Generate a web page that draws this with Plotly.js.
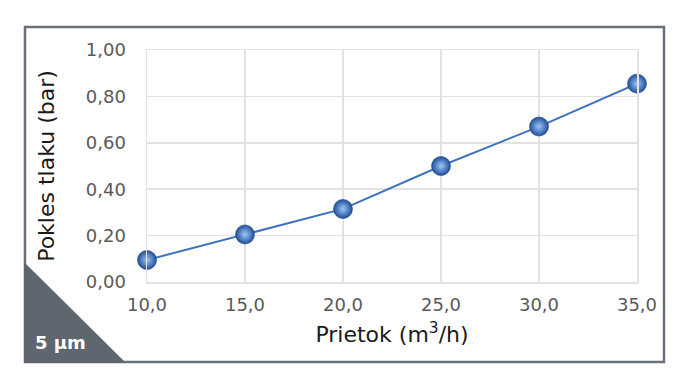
<!DOCTYPE html>
<html>
<head>
<meta charset="utf-8">
<script src="https://cdn.plot.ly/plotly-3.0.1.min.js"></script>
<style>
  html, body { margin: 0; padding: 0; background: #ffffff; }
  #chart { width: 690px; height: 390px; }
</style>
</head>
<body>
<div id="chart"></div>
<script>
// Data
const flowRates = [10, 15, 20, 25, 30, 35];            // Prietok (m³/h)
const pressureDrop = [0.095, 0.205, 0.315, 0.50, 0.67, 0.855]; // Pokles tlaku (bar)
const xTickVals = [10, 15, 20, 25, 30, 35];
const yTickVals = [0, 0.2, 0.4, 0.6, 0.8, 1.0];
const cornerLabel = '5 µm';
const xTitle = 'Prietok (m<sup>3</sup>/h)';
const yTitle = 'Pokles tlaku (bar)';

// Layout geometry (pixels)
const W = 690, H = 390;
const plotL = 147, plotR = 637, plotT = 50, plotB = 282;
const pw = plotR - plotL, ph = plotB - plotT;
const px = v => (v - plotL) / pw;
const py = v => (plotB - v) / ph;

const font = '"DejaVu Sans", "Open Sans", sans-serif';

const trace = {
  x: flowRates,
  y: pressureDrop,
  type: 'scatter',
  mode: 'lines+markers',
  cliponaxis: false,
  line: { color: '#3d72bf', width: 2 },
  marker: {
    size: 19,
    color: '#1f4f9c',
    gradient: { type: 'radial', color: '#9cc8f6' },
    line: { width: 0.6, color: '#1d4380' }
  },
  hoverinfo: 'x+y'
};

const layout = {
  width: W, height: H,
  margin: { l: plotL, r: W - plotR, t: plotT, b: H - plotB, pad: 0 },
  paper_bgcolor: '#ffffff',
  plot_bgcolor: '#ffffff',
  separators: ', ',
  showlegend: false,
  font: { family: font, color: '#595959', size: 18 },
  xaxis: {
    range: [10, 35],
    tickvals: xTickVals,
    tickformat: '.1f',
    showgrid: true,
    gridcolor: '#e2e2e2',
    gridwidth: 1.5,
    zeroline: false,
    showline: true,
    linecolor: '#e2e2e2',
    linewidth: 1.5,
    mirror: true,
    ticks: '',
    ticklabelstandoff: 6,
    tickfont: { family: font, size: 18, color: '#595959' },
    title: { text: xTitle, font: { family: font, size: 22, color: '#1a1a1a' }, standoff: 12 }
  },
  yaxis: {
    range: [0, 1],
    tickvals: yTickVals,
    tickformat: '.2f',
    showgrid: true,
    gridcolor: '#e2e2e2',
    gridwidth: 1.5,
    zeroline: false,
    showline: true,
    linecolor: '#e2e2e2',
    linewidth: 1.5,
    mirror: true,
    ticks: '',
    ticklabelstandoff: 16,
    tickfont: { family: font, size: 18, color: '#595959' },
    title: { text: yTitle, font: { family: font, size: 22, color: '#1a1a1a' }, standoff: 25 }
  },
  shapes: [
    {
      type: 'rect', xref: 'paper', yref: 'paper', layer: 'below',
      x0: px(25), x1: px(664), y0: py(362), y1: py(27),
      line: { color: '#6a7079', width: 2.5 }, fillcolor: 'rgba(0,0,0,0)'
    },
    {
      type: 'path', xref: 'paper', yref: 'paper', layer: 'above',
      path: `M ${px(24)} ${py(262)} L ${px(24)} ${py(363)} L ${px(126)} ${py(363)} Z`,
      fillcolor: '#5f6670', line: { width: 0 }
    }
  ],
  annotations: [
    {
      text: '<b>' + cornerLabel + '</b>', xref: 'paper', yref: 'paper',
      x: px(60), y: py(342), xanchor: 'center', yanchor: 'middle',
      showarrow: false, font: { family: font, size: 18, color: '#ffffff' }
    }
  ]
};

Plotly.newPlot('chart', [trace], layout, { displayModeBar: false, staticPlot: true });
</script>
</body>
</html>
